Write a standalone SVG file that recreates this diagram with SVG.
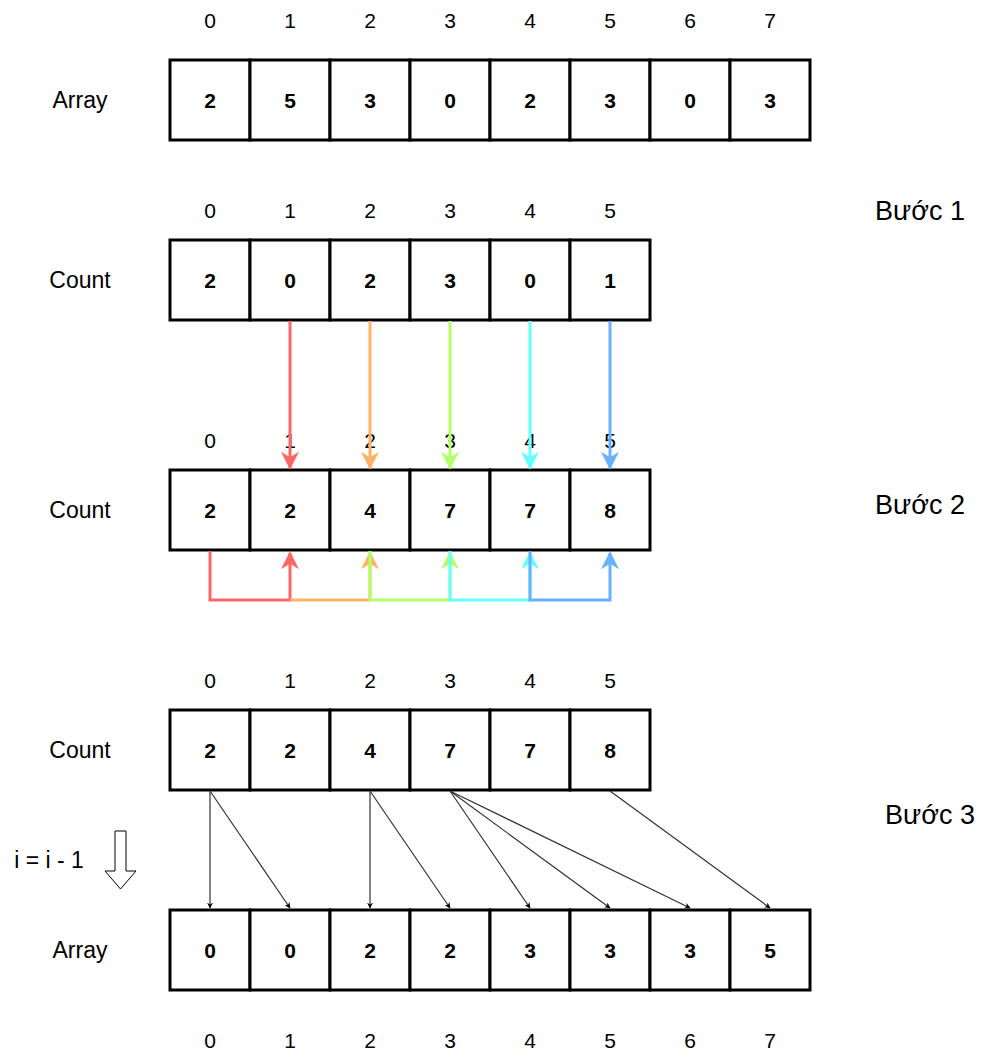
<svg xmlns="http://www.w3.org/2000/svg" width="990" height="1060" viewBox="0 0 990 1060">
<defs>
<style>
.cell{fill:#fff;stroke:#000;stroke-width:3}
.num{font-family:"Liberation Sans",Arial,sans-serif;font-size:21px;font-weight:bold;text-anchor:middle;dominant-baseline:central}
.idx{font-family:"Liberation Sans",Arial,sans-serif;font-size:21px;text-anchor:middle;dominant-baseline:central}
.lbl{font-family:"Liberation Sans",Arial,sans-serif;font-size:23px;text-anchor:middle;dominant-baseline:central}
.step{font-family:"Liberation Sans",Arial,sans-serif;font-size:27px;text-anchor:middle;dominant-baseline:central}
.thin{fill:none;stroke:#333;stroke-width:1.2}
.col{fill:none;stroke-width:3}
</style>
<marker id="ah" viewBox="0 0 10 10" refX="9" refY="5" markerWidth="6" markerHeight="6" orient="auto" markerUnits="userSpaceOnUse"><path d="M0,0 L10,5 L0,10 L3,5 Z" fill="#000"/></marker>
<marker id="r" viewBox="0 0 10 10" refX="9" refY="5" markerWidth="6" markerHeight="6" orient="auto"><path d="M0,0 L10,5 L0,10 L3,5 Z" fill="#FF6666"/></marker>
<marker id="o" viewBox="0 0 10 10" refX="9" refY="5" markerWidth="6" markerHeight="6" orient="auto"><path d="M0,0 L10,5 L0,10 L3,5 Z" fill="#FFB366"/></marker>
<marker id="g" viewBox="0 0 10 10" refX="9" refY="5" markerWidth="6" markerHeight="6" orient="auto"><path d="M0,0 L10,5 L0,10 L3,5 Z" fill="#B3FF66"/></marker>
<marker id="c" viewBox="0 0 10 10" refX="9" refY="5" markerWidth="6" markerHeight="6" orient="auto"><path d="M0,0 L10,5 L0,10 L3,5 Z" fill="#66FFFF"/></marker>
<marker id="b" viewBox="0 0 10 10" refX="9" refY="5" markerWidth="6" markerHeight="6" orient="auto"><path d="M0,0 L10,5 L0,10 L3,5 Z" fill="#66B2FF"/></marker>
</defs>
<rect width="990" height="1060" fill="#fff"/>

<g id="row-array-top">
<text x="210" y="20" class="idx">0</text><text x="290" y="20" class="idx">1</text><text x="370" y="20" class="idx">2</text><text x="450" y="20" class="idx">3</text><text x="530" y="20" class="idx">4</text><text x="610" y="20" class="idx">5</text><text x="690" y="20" class="idx">6</text><text x="770" y="20" class="idx">7</text>
<text x="80" y="100" class="lbl">Array</text>
<rect x="170" y="60" width="80" height="80" class="cell"/><rect x="250" y="60" width="80" height="80" class="cell"/><rect x="330" y="60" width="80" height="80" class="cell"/><rect x="410" y="60" width="80" height="80" class="cell"/><rect x="490" y="60" width="80" height="80" class="cell"/><rect x="570" y="60" width="80" height="80" class="cell"/><rect x="650" y="60" width="80" height="80" class="cell"/><rect x="730" y="60" width="80" height="80" class="cell"/>
<text x="210" y="100" class="num">2</text><text x="290" y="100" class="num">5</text><text x="370" y="100" class="num">3</text><text x="450" y="100" class="num">0</text><text x="530" y="100" class="num">2</text><text x="610" y="100" class="num">3</text><text x="690" y="100" class="num">0</text><text x="770" y="100" class="num">3</text>
</g>

<g id="row-count-1">
<text x="210" y="210" class="idx">0</text><text x="290" y="210" class="idx">1</text><text x="370" y="210" class="idx">2</text><text x="450" y="210" class="idx">3</text><text x="530" y="210" class="idx">4</text><text x="610" y="210" class="idx">5</text>
<text x="80" y="280" class="lbl">Count</text>
<rect x="170" y="240" width="80" height="80" class="cell"/><rect x="250" y="240" width="80" height="80" class="cell"/><rect x="330" y="240" width="80" height="80" class="cell"/><rect x="410" y="240" width="80" height="80" class="cell"/><rect x="490" y="240" width="80" height="80" class="cell"/><rect x="570" y="240" width="80" height="80" class="cell"/>
<text x="210" y="280" class="num">2</text><text x="290" y="280" class="num">0</text><text x="370" y="280" class="num">2</text><text x="450" y="280" class="num">3</text><text x="530" y="280" class="num">0</text><text x="610" y="280" class="num">1</text>
</g>

<g id="row-count-2">
<text x="210" y="440" class="idx">0</text><text x="290" y="440" class="idx">1</text><text x="370" y="440" class="idx">2</text><text x="450" y="440" class="idx">3</text><text x="530" y="440" class="idx">4</text><text x="610" y="440" class="idx">5</text>
<text x="80" y="510" class="lbl">Count</text>
<rect x="170" y="470" width="80" height="80" class="cell"/><rect x="250" y="470" width="80" height="80" class="cell"/><rect x="330" y="470" width="80" height="80" class="cell"/><rect x="410" y="470" width="80" height="80" class="cell"/><rect x="490" y="470" width="80" height="80" class="cell"/><rect x="570" y="470" width="80" height="80" class="cell"/>
<text x="210" y="510" class="num">2</text><text x="290" y="510" class="num">2</text><text x="370" y="510" class="num">4</text><text x="450" y="510" class="num">7</text><text x="530" y="510" class="num">7</text><text x="610" y="510" class="num">8</text>
</g>

<g id="row-count-3">
<text x="210" y="680" class="idx">0</text><text x="290" y="680" class="idx">1</text><text x="370" y="680" class="idx">2</text><text x="450" y="680" class="idx">3</text><text x="530" y="680" class="idx">4</text><text x="610" y="680" class="idx">5</text>
<text x="80" y="750" class="lbl">Count</text>
<rect x="170" y="710" width="80" height="80" class="cell"/><rect x="250" y="710" width="80" height="80" class="cell"/><rect x="330" y="710" width="80" height="80" class="cell"/><rect x="410" y="710" width="80" height="80" class="cell"/><rect x="490" y="710" width="80" height="80" class="cell"/><rect x="570" y="710" width="80" height="80" class="cell"/>
<text x="210" y="750" class="num">2</text><text x="290" y="750" class="num">2</text><text x="370" y="750" class="num">4</text><text x="450" y="750" class="num">7</text><text x="530" y="750" class="num">7</text><text x="610" y="750" class="num">8</text>
</g>

<g id="row-array-bottom">
<text x="80" y="950" class="lbl">Array</text>
<rect x="170" y="910" width="80" height="80" class="cell"/><rect x="250" y="910" width="80" height="80" class="cell"/><rect x="330" y="910" width="80" height="80" class="cell"/><rect x="410" y="910" width="80" height="80" class="cell"/><rect x="490" y="910" width="80" height="80" class="cell"/><rect x="570" y="910" width="80" height="80" class="cell"/><rect x="650" y="910" width="80" height="80" class="cell"/><rect x="730" y="910" width="80" height="80" class="cell"/>
<text x="210" y="950" class="num">0</text><text x="290" y="950" class="num">0</text><text x="370" y="950" class="num">2</text><text x="450" y="950" class="num">2</text><text x="530" y="950" class="num">3</text><text x="610" y="950" class="num">3</text><text x="690" y="950" class="num">3</text><text x="770" y="950" class="num">5</text>
<text x="210" y="1040" class="idx">0</text><text x="290" y="1040" class="idx">1</text><text x="370" y="1040" class="idx">2</text><text x="450" y="1040" class="idx">3</text><text x="530" y="1040" class="idx">4</text><text x="610" y="1040" class="idx">5</text><text x="690" y="1040" class="idx">6</text><text x="770" y="1040" class="idx">7</text>
</g>

<g id="step-labels">
<text x="920" y="211" class="step">Bước 1</text>
<text x="920" y="505" class="step">Bước 2</text>
<text x="930" y="815" class="step">Bước 3</text>
</g>

<g id="iter-note">
<text x="49" y="860" class="lbl">i = i - 1</text>
<path d="M115,831 H126 V871 H136 L120.5,889 L105,871 H115 Z" fill="#fff" stroke="#000" stroke-width="1"/>
</g>

<g id="connectors">
<path d="M290,321 V468" class="col" stroke="#FF6666" marker-end="url(#r)"/>
<path d="M370,321 V468" class="col" stroke="#FFB366" marker-end="url(#o)"/>
<path d="M450,321 V468" class="col" stroke="#B3FF66" marker-end="url(#g)"/>
<path d="M530,321 V468" class="col" stroke="#66FFFF" marker-end="url(#c)"/>
<path d="M610,321 V468" class="col" stroke="#66B2FF" marker-end="url(#b)"/>

<path d="M210,551 V600 H290 V553" class="col" stroke="#FF6666" marker-end="url(#r)"/>
<path d="M290,600 H370 V553" class="col" stroke="#FFB366" marker-end="url(#o)"/>
<path d="M370,551 V600 H450 V553" class="col" stroke="#B3FF66" marker-end="url(#g)"/>
<path d="M450,551 V600 H530 V553" class="col" stroke="#66FFFF" marker-end="url(#c)"/>
<path d="M530,551 V600 H610 V553" class="col" stroke="#66B2FF" marker-end="url(#b)"/>

<path d="M210,791 L210,908" class="thin" marker-end="url(#ah)"/>
<path d="M210,791 L290,908" class="thin" marker-end="url(#ah)"/>
<path d="M370,791 L370,908" class="thin" marker-end="url(#ah)"/>
<path d="M370,791 L450,908" class="thin" marker-end="url(#ah)"/>
<path d="M450,791 L530,908" class="thin" marker-end="url(#ah)"/>
<path d="M450,791 L610,908" class="thin" marker-end="url(#ah)"/>
<path d="M450,791 L690,908" class="thin" marker-end="url(#ah)"/>
<path d="M610,791 L770,908" class="thin" marker-end="url(#ah)"/>
</g>
</svg>
